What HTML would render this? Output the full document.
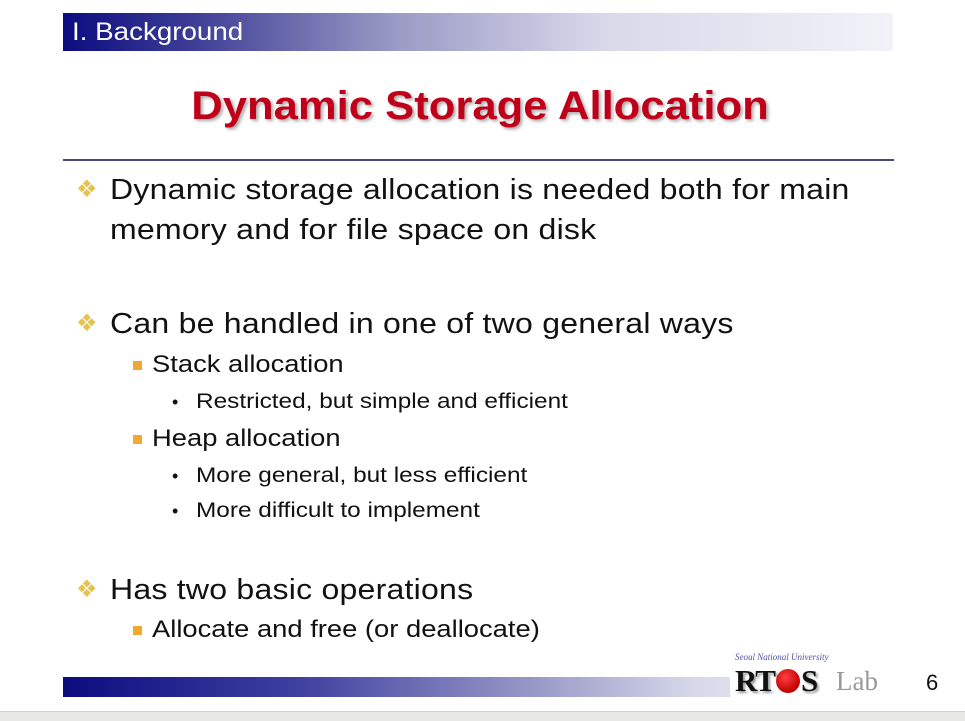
<!DOCTYPE html>
<html><head><meta charset="utf-8"><style>
body{margin:0;width:965px;height:720px;background:#fff;position:relative;overflow:hidden;font-family:"Liberation Sans",sans-serif;color:#111}
.a{position:absolute;white-space:nowrap;transform-origin:left center}
.hdr{left:63px;top:13px;width:830px;height:38px;background:linear-gradient(90deg,#0c0c80 0%,#3b3b95 15%,#9a9ac5 40%,#d8d8ea 65%,#f2f2f8 100%)}
.hdr span{position:absolute;left:9px;top:5px;color:#fff;font-size:25px;transform:scaleX(1.11);transform-origin:left center}
.title{left:0;width:960px;text-align:center;top:84px;font-size:40px;font-weight:bold;color:#c0001a;text-shadow:2px 2px 3px #aaa;transform:scaleX(1.09);transform-origin:480px center}
.rule{left:63px;top:159px;width:831px;height:2px;background:#4a4a78}
.l1{font-size:29px;left:110px;line-height:40px;letter-spacing:0.2px;transform:scaleX(1.105)}
.l2{font-size:24px;left:152px;line-height:32px;transform:scaleX(1.14)}
.l3{font-size:21px;left:196px;line-height:28px;transform:scaleX(1.16)}
.d{position:absolute;left:76px;color:#e6c350;font-size:24px;line-height:40px}
.s{position:absolute;left:133px;width:9px;height:9px;background:#f0a830}
.b{position:absolute;left:172px;font-size:18px;line-height:28px}
.ftr{left:63px;top:677px;width:790px;height:20px;background:linear-gradient(90deg,#0c0c80 0%,#4040a0 30%,#9a9ac8 60%,#d8d8ea 80%,#eeeef6 100%)}
</style></head><body>
<div class="a hdr"><span>I. Background</span></div>
<div class="a title">Dynamic Storage Allocation</div>
<div class="a rule"></div>

<div class="d" style="top:170px">❖</div>
<div class="a l1" style="top:170px">Dynamic storage allocation is needed both for main</div>
<div class="a l1" style="top:210px">memory and for file space on disk</div>

<div class="d" style="top:304px">❖</div>
<div class="a l1" style="top:304px">Can be handled in one of two general ways</div>
<div class="s" style="top:361px"></div>
<div class="a l2" style="top:349px">Stack allocation</div>
<div class="b" style="top:388px">•</div>
<div class="a l3" style="top:388px">Restricted, but simple and efficient</div>
<div class="s" style="top:435px"></div>
<div class="a l2" style="top:423px">Heap allocation</div>
<div class="b" style="top:462px">•</div>
<div class="a l3" style="top:462px">More general, but less efficient</div>
<div class="b" style="top:497px">•</div>
<div class="a l3" style="top:497px">More difficult to implement</div>

<div class="d" style="top:570px">❖</div>
<div class="a l1" style="top:570px">Has two basic operations</div>
<div class="s" style="top:626px"></div>
<div class="a l2" style="top:614px">Allocate and free (or deallocate)</div>

<div class="a ftr"></div>
<div class="a" style="left:730px;top:660px;width:160px;height:38px;background:#fff"></div>
<div class="a" style="left:735px;top:652px;font-family:'Liberation Serif',serif;font-style:italic;font-size:9px;color:#5050a0">Seoul National University</div>
<div class="a" style="left:735px;top:663px;font-family:'Liberation Serif',serif;font-weight:bold;font-size:31px;color:#111;text-shadow:2px 2px 2px #999;letter-spacing:-1px">RT<span style="display:inline-block;width:24px;height:24px;border-radius:50%;background:radial-gradient(circle at 40% 35%,#ff4040,#c00000 70%,#700);vertical-align:-2px;margin:0 1px"></span>S</div>
<div class="a" style="left:836px;top:666px;font-family:'Liberation Serif',serif;font-size:27px;color:#999">Lab</div>
<div class="a" style="left:926px;top:670px;font-size:22px;color:#111">6</div>
<div class="a" style="left:0;top:711px;width:965px;height:9px;background:#e8e8e4;border-top:1px solid #d0d0c8"></div>
</body></html>
